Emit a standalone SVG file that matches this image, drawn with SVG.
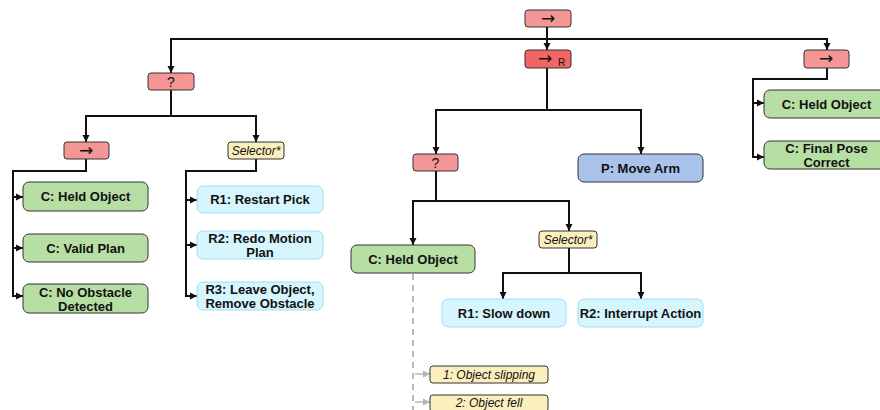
<svg xmlns="http://www.w3.org/2000/svg" width="880" height="410" viewBox="0 0 880 410">
<defs>
<marker id="ah" markerWidth="8" markerHeight="8" refX="7" refY="4" orient="auto" markerUnits="userSpaceOnUse"><path d="M0,0.5 L7,4 L0,7.5 Z" fill="#111"/></marker>
<marker id="ahg" markerWidth="8" markerHeight="8" refX="7" refY="4" orient="auto" markerUnits="userSpaceOnUse"><path d="M0,0.5 L7,4 L0,7.5 Z" fill="#b5b5b5"/></marker>
</defs>
<style>
.c{fill:none;stroke:#111;stroke-width:2;marker-end:url(#ah)}
.l{fill:none;stroke:#111;stroke-width:2}
.d{fill:none;stroke:#b8b8b8;stroke-width:2;stroke-dasharray:6 5}
.dg{fill:none;stroke:#b8b8b8;stroke-width:1.5;marker-end:url(#ahg)}
.seq{fill:#f59696;stroke:#333;stroke-width:1}
.seqr{fill:#f36565;stroke:#333;stroke-width:1}
.sel{fill:#fbefbd;stroke:#333;stroke-width:1}
.cond{fill:#b7dfa4;stroke:#333;stroke-width:1}
.rec{fill:#d6f5fd;stroke:#9edff2;stroke-width:1}
.act{fill:#a9c3ea;stroke:#333;stroke-width:1}
.t{font-family:"Liberation Sans",Arial,sans-serif;font-size:13px;font-weight:bold;fill:#111;text-anchor:middle}
.s{font-family:"Liberation Sans",Arial,sans-serif;font-size:12px;font-style:italic;fill:#111;text-anchor:middle}
.a{font-family:"DejaVu Sans",sans-serif;font-size:17px;fill:#111;text-anchor:middle}
.q{font-family:"Liberation Sans",Arial,sans-serif;font-size:14px;fill:#111;text-anchor:middle}
</style>
<g id="connectors">
<path class="c" d="M547 27 V50"/>
<path class="c" d="M547 39 H171 V73"/>
<path class="c" d="M547 39 H827 V50"/>
<path class="c" d="M171 90 V116 H86 V142"/>
<path class="c" d="M171 116 H256 V142"/>
<path class="c" d="M86 159 V171 H13 V197 H23"/>
<path class="c" d="M13 197 V248 H23"/>
<path class="c" d="M13 248 V296 H23"/>
<path class="c" d="M256 159 V171 H186 V200 H197"/>
<path class="c" d="M186 200 V245 H197"/>
<path class="c" d="M186 245 V296 H197"/>
<path class="c" d="M547 68 V110 H436 V154"/>
<path class="c" d="M547 110 H641 V154"/>
<path class="c" d="M436 171 V201 H413 V245"/>
<path class="c" d="M436 201 H569 V231"/>
<path class="c" d="M569 248 V273 H503 V299"/>
<path class="c" d="M569 273 H641 V299"/>
<path class="c" d="M827 68 V79 H753 V103 H764"/>
<path class="c" d="M753 103 V157 H764"/>
<path class="d" d="M413 274 V410"/>
<path class="dg" d="M415 374 H430"/>
<path class="dg" d="M415 402 H430"/>
</g>
<g id="root"><rect class="seq" x="525" y="10" width="46" height="17" rx="3"/><text class="a" x="548" y="24">→</text></g>
<g id="seqR"><rect class="seqr" x="525" y="50" width="46" height="18" rx="3"/><text class="a" x="545" y="64">→</text><text x="558" y="66" font-family="Liberation Sans,Arial,sans-serif" font-size="10" fill="#111">R</text></g>
<g id="seqRight"><rect class="seq" x="804" y="50" width="45" height="18" rx="3"/><text class="a" x="826" y="64">→</text></g>
<g id="fbLeft"><rect class="seq" x="148" y="73" width="46" height="17" rx="3"/><text class="q" x="171" y="87">?</text></g>
<g id="seqLeft"><rect class="seq" x="64" y="142" width="45" height="17" rx="3"/><text class="a" x="86" y="156">→</text></g>
<g id="selLeft"><rect class="sel" x="228" y="142" width="56" height="17" rx="3"/><text class="s" x="256" y="155">Selector*</text></g>
<g id="cHeld1"><rect class="cond" x="23" y="182" width="125" height="29" rx="6"/><text class="t" x="85.5" y="201">C: Held Object</text></g>
<g id="cValid"><rect class="cond" x="23" y="234" width="125" height="28" rx="6"/><text class="t" x="85.5" y="252.5">C: Valid Plan</text></g>
<g id="cNoObs"><rect class="cond" x="23" y="284" width="125" height="29" rx="6"/><text class="t" x="85.5" y="297">C: No Obstacle</text><text class="t" x="85.5" y="311">Detected</text></g>
<g id="r1Restart"><rect class="rec" x="197" y="186" width="126" height="27" rx="6"/><text class="t" x="260" y="204">R1: Restart Pick</text></g>
<g id="r2Redo"><rect class="rec" x="197" y="231" width="126" height="28" rx="6"/><text class="t" x="260" y="243">R2: Redo Motion</text><text class="t" x="260" y="257">Plan</text></g>
<g id="r3Leave"><rect class="rec" x="197" y="282" width="126" height="28" rx="6"/><text class="t" x="260" y="294">R3: Leave Object,</text><text class="t" x="260" y="308">Remove Obstacle</text></g>
<g id="fbMid"><rect class="seq" x="413" y="154" width="45" height="17" rx="3"/><text class="q" x="435.5" y="168">?</text></g>
<g id="pMove"><rect class="act" x="578" y="154" width="125" height="28" rx="6"/><text class="t" x="640.5" y="172.5">P: Move Arm</text></g>
<g id="cHeld2"><rect class="cond" x="351" y="245" width="124" height="28" rx="6"/><text class="t" x="413" y="263.5">C: Held Object</text></g>
<g id="selMid"><rect class="sel" x="539" y="231" width="58" height="17" rx="3"/><text class="s" x="568" y="244">Selector*</text></g>
<g id="r1Slow"><rect class="rec" x="442" y="299" width="124" height="28" rx="6"/><text class="t" x="504" y="317.5">R1: Slow down</text></g>
<g id="r2Interrupt"><rect class="rec" x="578" y="299" width="125" height="28" rx="6"/><text class="t" x="640.5" y="317.5">R2: Interrupt Action</text></g>
<g id="slip"><rect class="sel" x="430" y="366" width="118" height="17" rx="3"/><text class="s" x="489" y="379">1: Object slipping</text></g>
<g id="fell"><rect class="sel" x="430" y="395" width="118" height="17" rx="3"/><text class="s" x="489" y="407">2: Object fell</text></g>
<g id="cHeld3"><rect class="cond" x="764" y="90" width="125" height="28" rx="6"/><text class="t" x="826.5" y="108.5">C: Held Object</text></g>
<g id="cFinal"><rect class="cond" x="764" y="141" width="125" height="28" rx="6"/><text class="t" x="826.5" y="153">C: Final Pose</text><text class="t" x="826.5" y="167">Correct</text></g>
</svg>
